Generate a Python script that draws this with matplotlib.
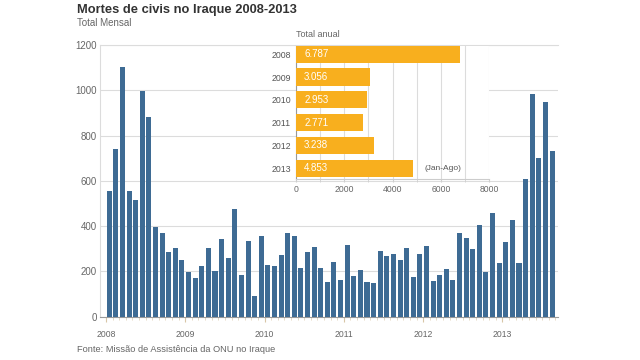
import matplotlib
matplotlib.use("Agg")
import matplotlib.pyplot as plt
import numpy as np

plt.rcParams['font.family'] = ['Liberation Sans', 'DejaVu Sans']

# Monthly civilian deaths, Jan 2008 - Aug 2013
deaths_2008 = [555, 740, 1105, 555, 516, 995, 880, 394, 369, 287, 305, 249]
deaths_2009 = [199, 170, 223, 305, 202, 343, 258, 477, 184, 333, 92, 357]
deaths_2010 = [230, 223, 273, 371, 357, 217, 287, 308, 217, 152, 242, 162]
deaths_2011 = [316, 180, 206, 152, 149, 289, 268, 279, 249, 305, 177, 279]
deaths_2012 = [311, 157, 183, 212, 160, 368, 346, 300, 407, 197, 456, 237]
deaths_2013 = [328, 426, 237, 607, 985, 699, 950, 731]
monthly = deaths_2008 + deaths_2009 + deaths_2010 + deaths_2011 + deaths_2012 + deaths_2013

year_labels = ["2008", "2009", "2010", "2011", "2012", "2013"]
annual_totals = [6787, 3056, 2953, 2771, 3238, 4853]
annual_labels = ["6.787", "3.056", "2.953", "2.771", "3.238", "4.853"]

y_ticks = [0, 200, 400, 600, 800, 1000, 1200]
inset_ticks = [0, 2000, 4000, 6000, 8000]

BLUE = "#3e6b94"
ORANGE = "#f8af1e"
GRAY_TXT = "#666666"
GRID = "#dcdcdc"

fig = plt.figure(figsize=(6.4, 3.6), dpi=100)
fig.patch.set_facecolor("white")

W, H = 640.0, 360.0
def fx(px): return px / W
def fy(py): return 1 - py / H

# ---- main axes ----
ax = fig.add_axes([fx(100), fy(316.7), fx(558) - fx(100), fy(45) - fy(316.7)])
n = len(monthly)
x = np.arange(n) + 0.5
ax.bar(x, monthly, width=0.76, color=BLUE, zorder=3)
ax.set_xlim(-0.9, 68.4)
ax.set_ylim(0, 1200)
ax.set_yticks(y_ticks)
ax.set_yticklabels([str(v) for v in y_ticks])
ax.yaxis.grid(True, color=GRID, linewidth=0.8, zorder=0)
ax.tick_params(axis='y', length=0, pad=2.5, labelsize=7, labelcolor=GRAY_TXT)

ax.set_xticks([12 * i for i in range(6)])
ax.set_xticklabels(year_labels)
ax.set_xticks(np.arange(0, n + 1), minor=True)
ax.tick_params(axis='x', which='major', length=3.5, color="#d8c6a6", pad=6,
               labelsize=6.2, labelcolor=GRAY_TXT)
ax.tick_params(axis='x', which='minor', length=2, color="#e2d4bb")
ax.spines["right"].set_visible(False)
ax.spines["top"].set_color(GRID)
ax.spines["left"].set_color(GRID)
ax.spines["bottom"].set_color("#9a9a9a")

# ---- inset axes ----
ia = fig.add_axes([fx(295.7), fy(179), fx(489.3) - fx(295.7), fy(46) - fy(179)])
ia.set_zorder(5)
ia.set_facecolor("white")
ypos = np.arange(len(year_labels))
ia.barh(ypos, annual_totals, height=0.75, color=ORANGE, zorder=3)
ia.set_ylim(5.47, -0.36)
ia.set_xlim(0, 8000)
ia.set_xticks(inset_ticks)
ia.set_xticks(np.arange(0, 8001, 1000), minor=True)
ia.set_xticklabels([str(v) for v in inset_ticks])
ia.xaxis.grid(True, which='both', color=GRID, linewidth=0.8, zorder=0)
ia.set_yticks(ypos)
ia.set_yticklabels(year_labels)
ia.tick_params(axis='y', length=0, pad=3.5, labelsize=6.3, labelcolor="#555555")
ia.tick_params(axis='x', which='both', length=2, color="#cfcfcf", pad=2.5,
               labelsize=6.2, labelcolor=GRAY_TXT)
for s in ["top", "right"]:
    ia.spines[s].set_visible(False)
ia.spines["left"].set_color("#999999")
ia.spines["bottom"].set_color("#cccccc")
for yi, lab in zip(ypos, annual_labels):
    ia.text(350, yi, lab, color="white", fontsize=7, va="center", ha="left", zorder=4)
ia.text(annual_totals[-1] + 450, ypos[-1], "(Jan-Ago)", color="#555555",
        fontsize=6, va="center", ha="left")

# ---- texts ----
fig.text(fx(77), fy(10), "Mortes de civis no Iraque 2008-2013", fontsize=9.3,
         fontweight="bold", color="#333333", ha="left", va="center")
fig.text(fx(77), fy(23), "Total Mensal", fontsize=7, color=GRAY_TXT, ha="left", va="center")
fig.text(fx(295.7), fy(34.3), "Total anual", fontsize=6.5, color=GRAY_TXT, ha="left", va="center")
fig.text(fx(77), fy(350), "Fonte: Missão de Assistência da ONU no Iraque", fontsize=6.7,
         color=GRAY_TXT, ha="left", va="center")

fig.savefig("out.png", dpi=100, facecolor="white")
